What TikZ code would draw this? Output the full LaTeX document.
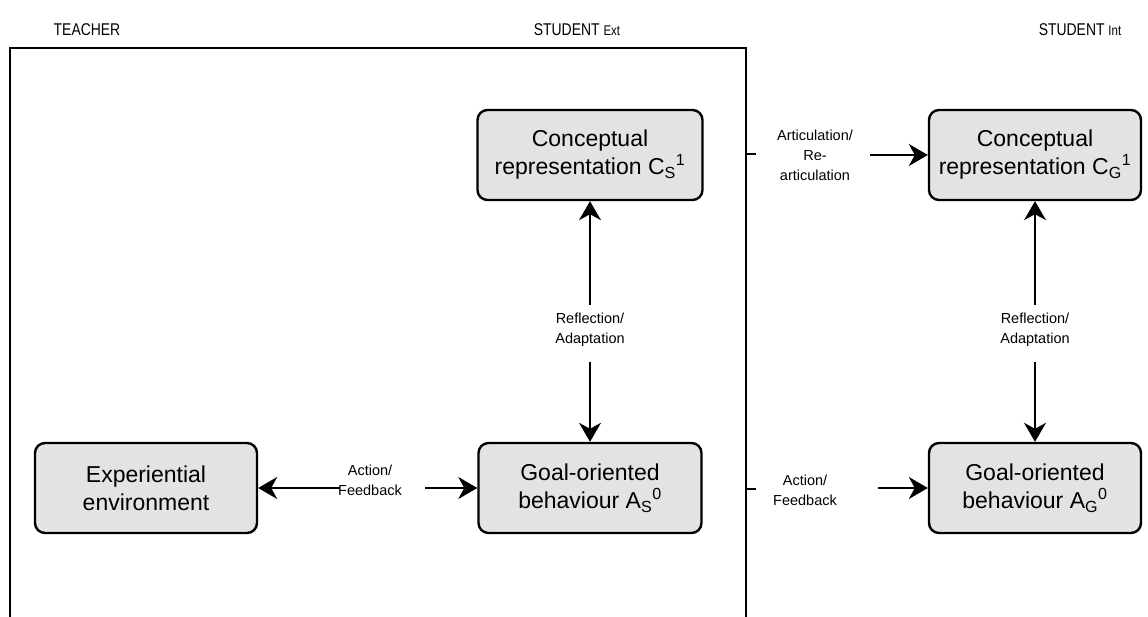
\documentclass[tikz,border=0pt]{standalone}
\usepackage{graphicx}
\usepackage{fontspec}
\setmainfont{Liberation Sans}
\usetikzlibrary{arrows.meta}
\newcommand{\hdrtext}[1]{\scalebox{0.82}[1]{#1}}
\newcommand{\sbsp}[2]{\textsubscript{#1}\textsuperscript{#2}}
\tikzset{
  box/.style={draw=black, line width=2.4pt, rounded corners=10pt, fill=black!11,
    minimum height=90pt, inner sep=0pt, align=center,
    font=\fontsize{23}{28}\selectfont},
  lbl/.style={align=center, font=\fontsize{14.5}{20}\selectfont},
  hdr/.style={font=\fontsize{17}{19}\selectfont},
  conn/.style={line width=1.8pt, -{Stealth[length=19pt,width=22pt,inset=6pt]}},
  frame/.style={line width=2pt}
}
\begin{document}
\begin{tikzpicture}[x=1pt,y=-1pt]
\useasboundingbox (0,0) rectangle (1148,617);
% headers
\node[hdr] (hT) at (87,30) {\hdrtext{TEACHER}};
\node[hdr] (hE) at (577,30) {\hdrtext{STUDENT {\fontsize{14}{15}\selectfont Ext}}};
\node[hdr] (hI) at (1080,30) {\hdrtext{STUDENT {\fontsize{14}{15}\selectfont Int}}};
% frame
\coordinate (f1) at (10,617);
\coordinate (f2) at (10,48);
\coordinate (f3) at (746,48);
\coordinate (f4) at (746,617);
\draw[frame] (f1) -- (f2) -- (f3) -- (f4);
\coordinate (t1a) at (746,154); \coordinate (t1b) at (756,154);
\coordinate (t2a) at (746,489); \coordinate (t2b) at (756,489);
\draw[frame] (t1a) -- (t1b);
\draw[frame] (t2a) -- (t2b);
% boxes
\node[box, minimum width=225pt] (CS) at (590,155) {Conceptual\\representation C\sbsp{S}{1}};
\node[box, minimum width=212pt] (CG) at (1035,155) {Conceptual\\representation C\sbsp{G}{1}};
\node[box, minimum width=222pt] (EE) at (146,488) {Experiential\\environment};
\node[box, minimum width=223pt] (AS) at (590,488) {Goal-oriented\\behaviour A\sbsp{S}{0}};
\node[box, minimum width=212pt] (AG) at (1035,488) {Goal-oriented\\behaviour A\sbsp{G}{0}};
% labels
\node[lbl] (RS) at (590,330) {Reflection/\\Adaptation};
\node[lbl] (RG) at (1035,330) {Reflection/\\Adaptation};
\node[lbl] (AF1) at (370,480) {Action/\\Feedback};
\node[lbl] (AR) at (815,155) {Articulation/\\Re-\\articulation};
\node[lbl] (AF2) at (805,490) {Action/\\Feedback};
% free ends
\coordinate (rs1) at (590,305); \coordinate (rs2) at (590,362);
\coordinate (rg1) at (1035,305); \coordinate (rg2) at (1035,362);
\coordinate (af1a) at (340,488); \coordinate (af1b) at (425,488);
\coordinate (ar1) at (870,155);
\coordinate (af2) at (878,488);
% connectors
\draw[conn] (rs1) -- (CS.south);
\draw[conn] (rs2) -- (AS.north);
\draw[conn] (rg1) -- (CG.south);
\draw[conn] (rg2) -- (AG.north);
\draw[conn] (af1a) -- (EE.east);
\draw[conn] (af1b) -- (AS.west);
\draw[conn] (ar1) -- (CG.west);
\draw[conn] (af2) -- (AG.west);
\end{tikzpicture}
\end{document}
